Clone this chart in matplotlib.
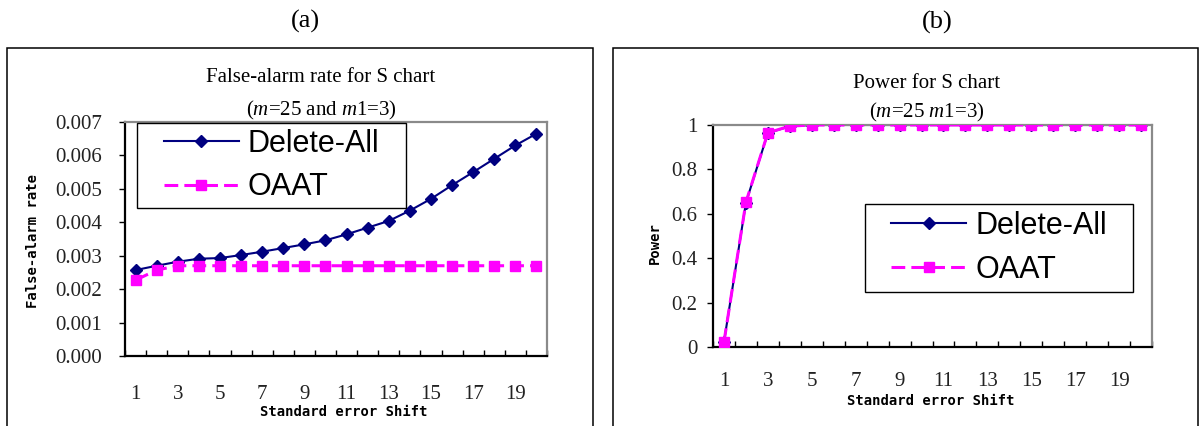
import matplotlib
matplotlib.use("Agg")
import matplotlib.pyplot as plt
from matplotlib.patches import Rectangle

# ---- data -------------------------------------------------------------
shift = list(range(1, 21))

far_delete_all = [0.00257, 0.00270, 0.00282, 0.00291, 0.00293, 0.00302, 0.00312,
                  0.00323, 0.00334, 0.00346, 0.00364, 0.00384, 0.00404, 0.00435,
                  0.00470, 0.00511, 0.00550, 0.00590, 0.00630, 0.00665]
far_oaat = [0.00227, 0.00257, 0.00270, 0.00270, 0.00270, 0.00270, 0.00270,
            0.00270, 0.00270, 0.00270, 0.00270, 0.00270, 0.00270, 0.00270,
            0.00270, 0.00270, 0.00270, 0.00270, 0.00270, 0.00270]

power_delete_all = [0.023, 0.650, 0.964, 0.994, 1.0, 1.0, 1.0, 1.0, 1.0, 1.0,
                    1.0, 1.0, 1.0, 1.0, 1.0, 1.0, 1.0, 1.0, 1.0, 1.0]
power_oaat = [0.023, 0.652, 0.965, 0.995, 1.0, 1.0, 1.0, 1.0, 1.0, 1.0,
              1.0, 1.0, 1.0, 1.0, 1.0, 1.0, 1.0, 1.0, 1.0, 1.0]

xtick_vals = [1, 3, 5, 7, 9, 11, 13, 15, 17, 19]
far_yticks = [0.000, 0.001, 0.002, 0.003, 0.004, 0.005, 0.006, 0.007]
power_yticks = [0, 0.2, 0.4, 0.6, 0.8, 1.0]
power_yticklabels = ["0", "0.2", "0.4", "0.6", "0.8", "1"]

series_names = ["Delete-All", "OAAT"]

# ---- style ------------------------------------------------------------
plt.rcParams["font.family"] = ["Liberation Serif", "DejaVu Serif"]
plt.rcParams["mathtext.fontset"] = "custom"
plt.rcParams["mathtext.rm"] = "Liberation Serif"
plt.rcParams["mathtext.it"] = "Liberation Serif:italic"

NAVY = "#000080"
MAGENTA = "#FF00FF"
W, H = 1202, 426

fig = plt.figure(figsize=(W / 100, H / 100), dpi=100)


def fx(px):
    return px / W


def fy(py):
    return 1 - py / H


def axes_rect(x0, y0, x1, y1):
    return [fx(x0), fy(y1), fx(x1) - fx(x0), fy(y0) - fy(y1)]


label_font = dict(family=["DejaVu Sans Mono"], weight="bold", size=10)


def style_axes(ax, tick_pad_x, tick_pad_y):
    ax.set_xlim(0.5, 20.5)
    for side in ("left", "bottom"):
        ax.spines[side].set_color("black")
        ax.spines[side].set_linewidth(1.6)
    for side in ("top", "right"):
        ax.spines[side].set_color("#8a8a8a")
        ax.spines[side].set_linewidth(1.6)
    ax.set_xticks(xtick_vals)
    ax.set_xticklabels([str(v) for v in xtick_vals])
    ax.set_xticks([v + 0.5 for v in range(0, 21)], minor=True)
    ax.tick_params(axis="x", which="major", length=0, pad=tick_pad_x,
                   labelsize=15, labelcolor="#222222")
    ax.tick_params(axis="x", which="minor", direction="in", length=4.5,
                   width=1, color="black")
    ax.tick_params(axis="y", which="major", direction="out", length=4.3,
                   width=1, color="black", pad=tick_pad_y, labelsize=15,
                   labelcolor="#222222")


def draw_series(ax, y1, y2):
    ax.plot(shift, y1, color=NAVY, lw=1.5, marker="D", ms=6,
            mfc=NAVY, mec=NAVY, label=series_names[0], zorder=2)
    ax.plot(shift, y2, color=MAGENTA, lw=2.2, marker="s", ms=6.8,
            mfc=MAGENTA, mec=MAGENTA, dashes=(4.5, 2.0),
            label=series_names[1], zorder=3)


def draw_legend(ax, box):
    x0, y0, x1, y1 = box
    frame = Rectangle((fx(x0), fy(y1)), fx(x1) - fx(x0), fy(y0) - fy(y1),
                      transform=fig.transFigure, facecolor="white",
                      edgecolor="black", lw=1.0, zorder=4, clip_on=False)
    ax.add_patch(frame)
    leg = ax.legend(loc="center",
                    bbox_to_anchor=(fx((x0 + x1) / 2), fy((y0 + y1) / 2)),
                    bbox_transform=fig.transFigure, frameon=False,
                    prop=dict(family="Liberation Sans", size=22),
                    borderpad=0, handlelength=2.45, handletextpad=0.3,
                    labelspacing=0.45, numpoints=1)
    leg.set_zorder(5)


def panel_frame(x0, x1, y0):
    fig.patches.append(Rectangle((fx(x0), fy(H + 20)), fx(x1) - fx(x0),
                                 fy(y0) - fy(H + 20),
                                 transform=fig.transFigure, fill=False,
                                 edgecolor="black", lw=1.1))


# ---- outer panels and panel letters ----------------------------------
panel_frame(7, 593, 48)
panel_frame(613, 1198, 48)
fig.text(fx(305), fy(21), "(a)", ha="center", va="center", fontsize=19)
fig.text(fx(937), fy(22), "(b)", ha="center", va="center", fontsize=19)

# ---- (a) false-alarm rate --------------------------------------------
ax1 = fig.add_axes(axes_rect(125, 122, 547, 356))
draw_series(ax1, far_delete_all, far_oaat)
ax1.set_ylim(0, 0.007)
ax1.set_yticks(far_yticks)
ax1.set_yticklabels([f"{v:.3f}" for v in far_yticks])
style_axes(ax1, tick_pad_x=21, tick_pad_y=12)
draw_legend(ax1, (137, 123, 406, 208))

fig.text(fx(321), fy(78), "False-alarm rate for S chart", ha="center",
         va="center", fontsize=15)
fig.text(fx(321), fy(110), r"($\mathit{m}$=25 and $\mathit{m}$1=3)",
         ha="center", va="center", fontsize=15)
fig.text(fx(33), fy(241), "False-alarm rate", rotation=90, ha="center",
         va="center", **label_font)
fig.text(fx(344), fy(412), "Standard error Shift", ha="center", va="center",
         **label_font)

# ---- (b) power --------------------------------------------------------
ax2 = fig.add_axes(axes_rect(713, 125, 1152, 347))
draw_series(ax2, power_delete_all, power_oaat)
ax2.set_ylim(0, 1)
ax2.set_yticks(power_yticks)
ax2.set_yticklabels(power_yticklabels)
style_axes(ax2, tick_pad_x=18, tick_pad_y=7)
draw_legend(ax2, (865, 204, 1133, 292))

fig.text(fx(927), fy(83), "Power for S chart", ha="center", va="center",
         fontsize=15)
fig.text(fx(927), fy(112), r"($\mathit{m}$=25 $\mathit{m1}$=3)",
         ha="center", va="center", fontsize=15)
fig.text(fx(655), fy(243), "Power", rotation=90, ha="center", va="center",
         **label_font)
fig.text(fx(931), fy(401), "Standard error Shift", ha="center", va="center",
         **label_font)

fig.savefig("out.png", dpi=100)
